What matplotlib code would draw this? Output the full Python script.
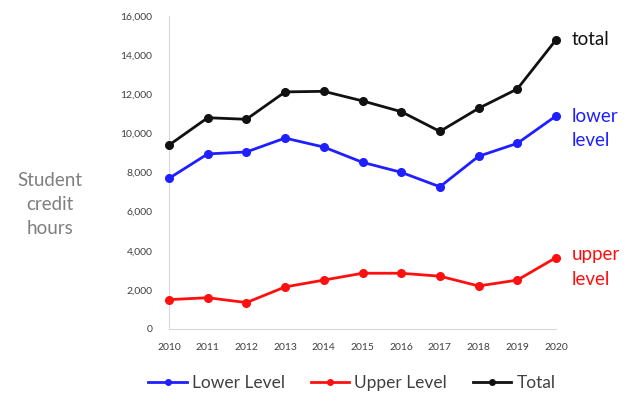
import matplotlib
matplotlib.use("Agg")
import matplotlib.pyplot as plt

years = [2010, 2011, 2012, 2013, 2014, 2015, 2016, 2017, 2018, 2019, 2020]
lower_level = [7700, 8950, 9050, 9760, 9300, 8520, 8010, 7270, 8830, 9490, 10890]
upper_level = [1500, 1600, 1350, 2150, 2500, 2850, 2850, 2700, 2200, 2500, 3650]
total = [9400, 10800, 10720, 12120, 12150, 11660, 11110, 10100, 11280, 12270, 14780]
y_ticks = [0, 2000, 4000, 6000, 8000, 10000, 12000, 14000, 16000]
y_tick_labels = ["0", "2,000", "4,000", "6,000", "8,000", "10,000", "12,000", "14,000", "16,000"]

plt.rcParams['font.family'] = ['Lato', 'DejaVu Sans']

fig = plt.figure(figsize=(6.32, 4.0), dpi=100)
ax = fig.add_axes([169/632, 1 - 329/400, (556 - 169)/632, (329 - 16)/400])

blue = "#1f1fff"
red = "#ff1010"
black = "#111111"
ax.plot(years, lower_level, color=blue, marker="o", markersize=5.5, lw=2, label="Lower Level", clip_on=False, zorder=3)
ax.plot(years, upper_level, color=red, marker="o", markersize=5.5, lw=2, label="Upper Level", clip_on=False, zorder=3)
ax.plot(years, total, color=black, marker="o", markersize=5.5, lw=2, label="Total", clip_on=False, zorder=3)

ax.set_xlim(2010, 2020)
ax.set_ylim(0, 16000)
ax.set_xticks(years)
ax.set_xticklabels([str(y) for y in years])
ax.set_yticks(y_ticks)
ax.set_yticklabels(y_tick_labels)
ax.tick_params(axis="both", length=0, labelsize=7.5, colors="#404040")
ax.tick_params(axis="y", pad=12)
ax.tick_params(axis="x", pad=10)
for s in ["top", "right"]:
    ax.spines[s].set_visible(False)
for s in ["left", "bottom"]:
    ax.spines[s].set_color("#d9d9d9")
    ax.spines[s].set_linewidth(0.8)

ax.text(2020.4, total[-1], "total", color=black, fontsize=13.5, va="center", ha="left")
ax.text(2020.4, lower_level[-1] - 640, "lower\nlevel", color=blue, fontsize=13.5, va="center", ha="left", linespacing=1.55)
ax.text(2020.4, upper_level[-1] - 480, "upper\nlevel", color=red, fontsize=13.5, va="center", ha="left", linespacing=1.55)

fig.text(50/632, 1 - 205/400, "Student\ncredit\nhours", color="#7f7f7f", fontsize=13.5,
         ha="center", va="center", linespacing=1.5)

leg = fig.legend(loc="center", bbox_to_anchor=(352/632, 1 - 383/400), ncol=3, frameon=False,
                 fontsize=12.5, handlelength=2.2, handletextpad=0.3, columnspacing=1.5,
                 labelcolor="#404040")
for h in leg.legend_handles:
    h.set_markersize(4)

fig.savefig("out.png", dpi=100)
